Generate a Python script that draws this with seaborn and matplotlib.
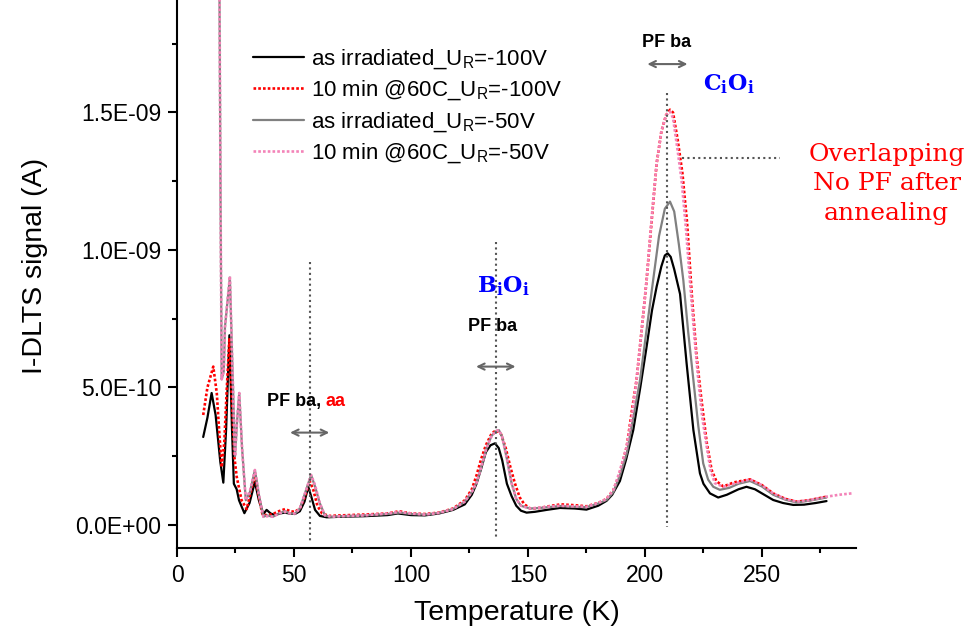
import matplotlib
matplotlib.use('Agg')
import numpy as np
import pandas as pd
import matplotlib.pyplot as plt
import seaborn as sns
from matplotlib.ticker import FixedLocator, FuncFormatter

# temperatures (K) and I-DLTS signal in units of 1e-10 A
t_irr100 = [11.2, 13, 14.8, 16.5, 18.5, 19.8, 21, 22.4, 23.5, 24.3, 25.5, 26.5, 28.8, 31, 33.3, 35,
            36.9, 38.3, 40, 42, 44, 46, 48, 50.4, 52.5, 54.5, 56.1, 57.5, 59, 61.1, 64, 70, 80, 90,
            94.4, 100, 106, 112, 118, 123, 126, 128, 130, 132, 134, 135.9, 137.5, 139, 141, 143,
            145, 147, 149.4, 153, 158, 163.7, 170, 175, 180, 183.6, 186, 189.3, 192, 195, 198,
            200.7, 203, 205, 207, 208.5, 209.7, 211, 212.5, 215, 217.8, 220.7, 223.5, 225, 227.8,
            231.3, 235, 240, 243.4, 247, 251, 254.8, 259, 263.4, 268, 273, 277.6]
s_irr100 = [3.2, 3.9, 4.8, 4.0, 2.3, 1.54, 3.5, 6.9, 3.5, 1.5, 1.3, 0.9, 0.43, 0.8, 1.57, 0.9,
            0.4, 0.55, 0.42, 0.36, 0.42, 0.45, 0.42, 0.4, 0.5, 0.85, 1.39, 1.0, 0.55, 0.33, 0.28,
            0.3, 0.32, 0.36, 0.42, 0.36, 0.35, 0.42, 0.55, 0.75, 1.1, 1.5, 2.05, 2.65, 2.9, 2.97,
            2.8, 2.35, 1.5, 1.05, 0.7, 0.52, 0.45, 0.48, 0.55, 0.62, 0.6, 0.56, 0.7, 0.88, 1.1,
            1.6, 2.4, 3.45, 5.0, 6.48, 7.8, 8.67, 9.4, 9.8, 9.88, 9.75, 9.3, 8.4, 5.88, 3.45, 1.88,
            1.5, 1.15, 1.0, 1.1, 1.3, 1.39, 1.3, 1.1, 0.91, 0.8, 0.73, 0.74, 0.8, 0.87]

t_ann100 = [11.2, 13, 15.5, 17, 18.2, 19.1, 20.2, 21.3, 22.4, 23.5, 24.5, 25.5, 27.6, 29.8, 31.5,
            33.3, 35, 36.5, 38.5, 41, 43.5, 46.2, 48.5, 50.4, 52.5, 54.5, 56.7, 58.2, 60, 62, 65,
            70, 80, 90, 95, 100, 106, 112, 118, 123, 126, 128, 130, 132, 134.5, 136.5, 138.5,
            140.5, 142.5, 144.4, 146.5, 148.5, 151, 155, 160, 164, 170, 175, 180, 183.6, 186.5,
            189, 192.2, 194.5, 196.4, 198.5, 200.7, 203, 205, 207, 209, 210.7, 212, 214, 216, 218,
            220, 222, 223.8, 226.4, 228.5, 230.5, 233.5, 238, 244.9, 250, 254.8, 260, 264.8, 270,
            277.6]
s_ann100 = [4.0, 5.0, 5.76, 4.8, 3.2, 2.1, 3.0, 5.0, 6.8, 4.5, 2.5, 1.76, 0.9, 0.58, 1.2,
            1.85, 1.0, 0.4, 0.35, 0.4, 0.5, 0.58, 0.5, 0.48, 0.6, 1.0, 1.6, 1.3, 0.7, 0.42, 0.33,
            0.35, 0.38, 0.42, 0.5, 0.42, 0.4, 0.45, 0.6, 0.9, 1.3, 1.8, 2.4, 2.9, 3.33, 3.45, 3.3,
            2.8, 2.1, 1.52, 1.0, 0.75, 0.6, 0.62, 0.7, 0.75, 0.72, 0.68, 0.8, 0.95, 1.27,
            1.8, 2.85, 4.2, 5.27, 7.0, 8.9, 11.2, 13.15, 14.3, 14.9, 15.1, 15.0, 14.0, 12.8, 11.0,
            8.4, 6.2, 4.8, 3.0, 2.0, 1.6, 1.4, 1.55, 1.66, 1.45, 1.15, 0.95, 0.85, 0.9,
            1.03]

t_irr50 = [18.0, 18.6, 19.1, 20, 20.5, 22.6, 23.6, 24.8, 25.7, 26.6, 27.8, 29.4, 31.2, 33.3, 35,
           36.9, 38.5, 41, 43.5, 46, 48.5, 50.5, 52.5, 54.5, 57.3, 59, 61, 63.2, 66, 70, 80, 90,
           95, 100, 106, 112, 118, 123, 126, 128.1, 130, 132.3, 134.5, 136.5, 137.6, 139, 141,
           143, 145, 147, 150.9, 155, 160, 163.7, 170, 175, 180, 183.6, 186.5, 189.3, 192.2, 195,
           197.9, 200.7, 203.5, 206, 208.5, 210.7, 212.5, 214.5, 216.4, 218.5, 220.7, 222.8,
           224.9, 227, 229.2, 232, 236, 240, 244.9, 250, 254.8, 260, 264.8, 270, 277.6]
s_irr50 = [22, 12, 5.3, 5.6, 7.2, 9.0, 6.0, 2.5, 3.8, 4.8, 2.8, 0.9, 1.2, 2.0, 1.1,
           0.3, 0.35, 0.3, 0.42, 0.5, 0.42, 0.42, 0.6, 1.1, 1.82, 1.4, 0.8, 0.35, 0.3, 0.32, 0.35,
           0.4, 0.45, 0.4, 0.38, 0.44, 0.58, 0.85, 1.2, 1.55, 2.1, 2.8, 3.25, 3.42, 3.45, 3.2, 2.4,
           1.52, 0.95, 0.7, 0.6, 0.62, 0.66, 0.69, 0.66, 0.65, 0.78, 0.91, 1.2, 1.8, 2.6, 3.9,
           5.27, 7.1, 8.9, 10.5, 11.5, 11.76, 11.4, 10.2, 8.9, 7.0, 5.27, 3.6,
           2.24, 1.65, 1.39, 1.28, 1.35, 1.5, 1.6, 1.4, 1.1, 0.92, 0.82, 0.88, 1.0]

t_ann50 = [18.0, 18.6, 19.1, 20, 20.5, 22.6, 23.6, 24.8, 25.7, 26.6, 27.8, 29.4, 31.2, 33.3, 35,
           36.9, 38.5, 41, 43.5, 46, 48.5, 50.5, 52.5, 54.5, 57.3, 59, 61, 63.2, 66, 70, 80, 90,
           95, 100, 106, 112, 118, 123, 126, 128.1, 130, 132.3, 134.5, 136.5, 137.6, 139, 141,
           143, 145, 147, 150.9, 155, 160, 163.7, 170, 175, 180, 183.6, 186.5, 189, 192.2, 194.5,
           196.4, 198.5, 200.7, 203, 205, 207, 209, 210.7, 212, 214, 215.7, 217.5, 219.2, 221,
           222.8, 224.5, 226.4, 228, 229.9, 233.5, 238, 244.9, 250, 254.8, 260, 264.8, 270,
           277.6, 283, 288.3]
s_ann50 = [22, 12, 5.3, 5.6, 7.2, 9.05, 6.0, 2.5, 3.8, 4.8, 2.8, 0.9, 1.25, 2.0, 1.1,
           0.3, 0.32, 0.3, 0.42, 0.48, 0.42, 0.42, 0.6, 1.1, 1.82, 1.45, 0.8, 0.35, 0.3, 0.32, 0.35,
           0.42, 0.48, 0.42, 0.38, 0.44, 0.58, 0.85, 1.2, 1.55, 2.1, 2.8, 3.25, 3.42, 3.45, 3.2, 2.4,
           1.52, 0.95, 0.7, 0.6, 0.63, 0.68, 0.7, 0.68, 0.66, 0.8, 0.95, 1.27, 1.9, 2.85, 4.0,
           5.27, 7.0, 8.9, 11.3, 13.15, 14.3, 14.9, 15.03, 14.8, 13.6, 12.5, 10.8, 8.9, 7.0,
           5.27, 3.9, 2.85, 2.0, 1.52, 1.39, 1.5, 1.66, 1.45, 1.15, 0.95, 0.85, 0.9,
           1.03, 1.1, 1.15]

labels = ['as irradiated_U$_\\mathsf{R}$=-100V',
          '10 min @60C_U$_\\mathsf{R}$=-100V',
          'as irradiated_U$_\\mathsf{R}$=-50V',
          '10 min @60C_U$_\\mathsf{R}$=-50V']
y_ticks = [0, 5e-10, 1e-9, 1.5e-9]
x_ticks = [0, 50, 100, 150, 200, 250]

sns.set_style('ticks')
plt.rcParams['font.family'] = ['Liberation Sans', 'DejaVu Sans']
plt.rcParams['mathtext.fontset'] = 'custom'
plt.rcParams['mathtext.sf'] = 'Liberation Sans'
plt.rcParams['mathtext.rm'] = 'Liberation Sans'
plt.rcParams['mathtext.bf'] = 'DejaVu Serif:bold'
for k in ['text.color', 'axes.labelcolor', 'xtick.color', 'ytick.color', 'axes.edgecolor']:
    plt.rcParams[k] = 'black'

fig = plt.figure(figsize=(9.76, 6.35), dpi=100)
ax = fig.add_axes([177/976, 1-548/635, 679/976, 548/635])

series = [(t_irr100, s_irr100, 'black', '-', 1.6),
          (t_ann100, s_ann100, '#ff0000', (0, (1, 0.8)), 1.9),
          (t_irr50, s_irr50, '#808080', '-', 1.6),
          (t_ann50, s_ann50, '#f383b8', (0, (1, 0.8)), 1.9)]
for (t, s, c, ls, lw), lab in zip(series, labels):
    d = pd.DataFrame({'T': t, 'S': np.array(s) * 1e-10})
    sns.lineplot(data=d, x='T', y='S', color=c, linestyle=ls, lw=lw, label=lab,
                 sort=False, estimator=None, ax=ax)

ax.set_xlim(0, 290.2)
ax.set_ylim(-0.836e-10, 19.09e-10)
ax.xaxis.set_major_locator(FixedLocator(x_ticks))
ax.xaxis.set_minor_locator(FixedLocator([25, 75, 125, 175, 225, 275]))
ax.yaxis.set_major_locator(FixedLocator(y_ticks))
ax.yaxis.set_minor_locator(FixedLocator([2.5e-10, 7.5e-10, 12.5e-10, 17.5e-10]))
ax.yaxis.set_major_formatter(FuncFormatter(lambda v, p: f'{v:.1E}'))
ax.tick_params(which='major', length=6.5, width=1.5, labelsize=16.5, pad=5)
ax.tick_params(which='minor', length=3.5, width=1.5)
for sp in ['left', 'bottom']:
    ax.spines[sp].set_linewidth(1.5)
sns.despine(ax=ax)

ax.set_xlabel('Temperature (K)', fontsize=20.5)
ax.set_ylabel('I-DLTS signal (A)', fontsize=20.5)
ax.xaxis.set_label_coords(0.5, -0.095)
ax.yaxis.set_label_coords(-0.19, 0.514)

ax.legend(loc='upper left', bbox_to_anchor=(0.112, 0.913), frameon=False, fontsize=16,
          borderaxespad=0, borderpad=0, handlelength=2.3, handletextpad=0.3, labelspacing=0.34)

# guide lines and arrows
dot = dict(color='#555555', lw=1.5, ls=(0, (1, 1.6)))
ax.plot([57, 57], [9.56e-10, -0.6e-10], **dot)
ax.plot([136.2, 136.2], [10.3e-10, -0.47e-10], **dot)
ax.plot([209.5, 209.5], [15.7e-10, -0.07e-10], **dot)
ax.plot([216, 257.6], [13.35e-10, 13.35e-10], **dot)

arr = dict(arrowstyle='<->,head_length=0.45,head_width=0.22', color='#666666', lw=1.5,
           shrinkA=0, shrinkB=0)
ax.annotate('', xy=(48.3, 3.36e-10), xytext=(65.1, 3.36e-10), arrowprops=arr)
ax.annotate('', xy=(127.8, 5.76e-10), xytext=(144.7, 5.76e-10), arrowprops=arr)
ax.annotate('', xy=(201, 16.76e-10), xytext=(218.2, 16.76e-10), arrowprops=arr)

t1 = ax.text(38.3, 4.48e-10, 'PF ba, ', fontsize=13, fontweight='bold', va='center', ha='left')
ax.annotate('aa', xy=(1, 0), xycoords=t1, va='bottom', ha='left', fontsize=13,
            fontweight='bold', color='#ff0000')
ax.text(134.8, 7.21e-10, 'PF ba', fontsize=13, fontweight='bold', va='center', ha='center')
ax.text(209.1, 17.54e-10, 'PF ba', fontsize=13, fontweight='bold', va='center', ha='center')

ax.text(128.1, 8.44e-10, r'$\mathbf{B_iO_i}$', fontsize=16, color='#0000ff', va='baseline')
ax.text(224.8, 15.82e-10, r'$\mathbf{C_iO_i}$', fontsize=16, color='#0000ff', va='baseline')
ax.text(303.3, 12.4e-10, 'Overlapping\nNo PF after\nannealing', fontsize=18,
        family='DejaVu Serif', color='#ff0000', ha='center', va='center', linespacing=1.35,
        clip_on=False)

fig.savefig('out.png', dpi=100)
